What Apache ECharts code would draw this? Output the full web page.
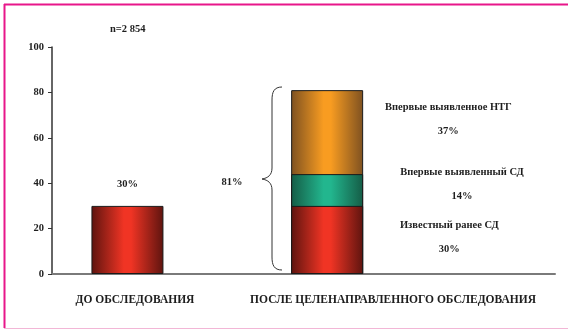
<!DOCTYPE html>
<html>
<head>
<meta charset="utf-8">
<script src="https://cdn.jsdelivr.net/npm/echarts@6/dist/echarts.min.js"></script>
<style>
  html, body { margin: 0; padding: 0; background: #fff; }
  #chart { width: 568px; height: 330px; }
</style>
</head>
<body>
<div id="chart"></div>
<script>
// Group positions along the horizontal scale (0..100) and their captions
const groupNames = ['ДО ОБСЛЕДОВАНИЯ', 'ПОСЛЕ ЦЕЛЕНАПРАВЛЕННОГО ОБСЛЕДОВАНИЯ'];
const groupBarX = [15, 54.7];
const groupLabelX = [16.5, 67.8];

// Before screening: known diabetes
const beforeValues = [30];

// After screening, segments from bottom to top
const segmentNames = ['Известный ранее СД', 'Впервые выявленный СД', 'Впервые выявленное НТГ'];
const afterValues = [30, 14, 37];
const segmentLabelX = [79, 81.5, 78.8];
const afterTotal = [81];
const totalLabelX = [35.8];

const yTicks = [0, 20, 40, 60, 80, 100];
const sampleSize = 'n=2 854';

const serif = '"Liberation Serif", "DejaVu Serif", serif';

function grad(edge, mid) {
  return {
    type: 'linear', x: 0, y: 0, x2: 1, y2: 0,
    colorStops: [
      { offset: 0, color: edge },
      { offset: 0.45, color: mid },
      { offset: 0.55, color: mid },
      { offset: 1, color: edge }
    ]
  };
}
const segFills = [
  grad('#5e140f', '#f03424'),
  grad('#155c46', '#22b68e'),
  grad('#7e5121', '#f89c21')
];

// running tops and mid-points of the segments
const tops = [];
const mids = [];
afterValues.reduce((acc, v, i) => {
  tops[i] = acc + v;
  mids[i] = acc + v / 2;
  return acc + v;
}, 0);

// per-segment label vertical nudges (px)
const labelNudge = [-3, -6, -13];

const barBase = {
  type: 'bar',
  barWidth: 72,
  barGap: '-100%',
  silent: true
};

const textBase = {
  fontFamily: serif,
  fontWeight: 'bold',
  color: '#1e1e1e',
  textBorderWidth: 0
};

// invisible anchor points that only carry text
const anchorBase = {
  type: 'scatter',
  symbolSize: 1,
  silent: true,
  itemStyle: { color: 'rgba(0,0,0,0)', opacity: 1 },
  z: 5
};

// segments drawn as overlapping columns from the top one down,
// so each lower column covers the one behind it
const segmentSeries = afterValues.map((v, i) => ({
  ...barBase,
  data: [[groupBarX[1], tops[i]]],
  itemStyle: { color: segFills[i], borderColor: '#1a1a1a', borderWidth: 1 },
  z: 2
})).reverse();

const segmentLabelSeries = afterValues.map((v, i) => ({
  ...anchorBase,
  data: [[segmentLabelX[i], mids[i]]],
  label: {
    ...textBase,
    show: true,
    position: 'inside',
    offset: [0, labelNudge[i]],
    align: 'center',
    verticalAlign: 'middle',
    fontSize: 10.5,
    lineHeight: 24,
    formatter: () => segmentNames[i] + '\n' + v + '%'
  }
}));

// curly brace beside the stacked column
const braceStyle = { stroke: '#333', lineWidth: 1, fill: null };
const brace = [
  { type: 'bezierCurve', shape: { x1: 282, y1: 87, cpx1: 274, cpy1: 87, cpx2: 272, cpy2: 92, x2: 272, y2: 100 }, style: braceStyle },
  { type: 'line', shape: { x1: 272, y1: 100, x2: 272, y2: 168 }, style: braceStyle },
  { type: 'bezierCurve', shape: { x1: 272, y1: 168, cpx1: 272, cpy1: 175, cpx2: 268, cpy2: 178, x2: 262, y2: 179 }, style: braceStyle },
  { type: 'bezierCurve', shape: { x1: 262, y1: 179, cpx1: 268, cpy1: 180, cpx2: 272, cpy2: 183, x2: 272, y2: 190 }, style: braceStyle },
  { type: 'line', shape: { x1: 272, y1: 190, x2: 272, y2: 257 }, style: braceStyle },
  { type: 'bezierCurve', shape: { x1: 272, y1: 257, cpx1: 272, cpy1: 265, cpx2: 274, cpy2: 270, x2: 282, y2: 270 }, style: braceStyle }
];

const chart = echarts.init(document.getElementById('chart'));

chart.setOption({
  animation: false,
  backgroundColor: '#fff',
  grid: { left: 52, right: 13, top: 47, bottom: 56 },
  xAxis: {
    type: 'value',
    min: 0,
    max: 100,
    splitLine: { show: false },
    axisLine: { show: true, onZero: false, lineStyle: { color: '#7a7a7a', width: 2 } },
    axisTick: { show: false },
    axisLabel: {
      ...textBase,
      show: true,
      customValues: groupLabelX,
      formatter: (val) => {
        const i = groupLabelX.indexOf(val);
        return i >= 0 ? groupNames[i] : '';
      },
      margin: 20,
      fontSize: 11.5
    }
  },
  yAxis: {
    type: 'value',
    min: 0,
    max: 100,
    interval: 20,
    splitLine: { show: false },
    axisLine: { show: true, lineStyle: { color: '#333', width: 1.5 } },
    axisTick: { show: true, length: 4, lineStyle: { color: '#333' } },
    axisLabel: {
      ...textBase,
      margin: 8,
      fontSize: 10.5
    }
  },
  series: [
    ...segmentSeries,
    {
      ...barBase,
      data: beforeValues.map(v => [groupBarX[0], v]),
      itemStyle: { color: segFills[0], borderColor: '#1a1a1a', borderWidth: 1 },
      label: {
        ...textBase,
        show: true,
        position: 'top',
        distance: 16,
        fontSize: 10.5,
        formatter: (p) => p.value[1] + '%'
      },
      z: 2
    },
    ...segmentLabelSeries,
    {
      // total of the column, beside the brace
      ...anchorBase,
      data: afterTotal.map(v => [totalLabelX[0], v / 2]),
      label: {
        ...textBase,
        show: true,
        position: 'inside',
        fontSize: 10.5,
        formatter: () => afterTotal[0] + '%'
      }
    }
  ],
  graphic: [
    // frame lines
    { type: 'line', shape: { x1: 4.5, y1: 4, x2: 4.5, y2: 328 }, style: { stroke: '#e8168a', lineWidth: 2 } },
    { type: 'line', shape: { x1: 4, y1: 4.5, x2: 568, y2: 4.5 }, style: { stroke: '#e8168a', lineWidth: 2 } },
    { type: 'line', shape: { x1: 4, y1: 328.5, x2: 568, y2: 328.5 }, style: { stroke: '#f2b6d6', lineWidth: 1 } },
    {
      type: 'text',
      x: 110,
      y: 24,
      style: { text: sampleSize, font: 'bold 10.5px ' + serif, fill: '#1e1e1e' }
    },
    ...brace
  ]
});
</script>
</body>
</html>
